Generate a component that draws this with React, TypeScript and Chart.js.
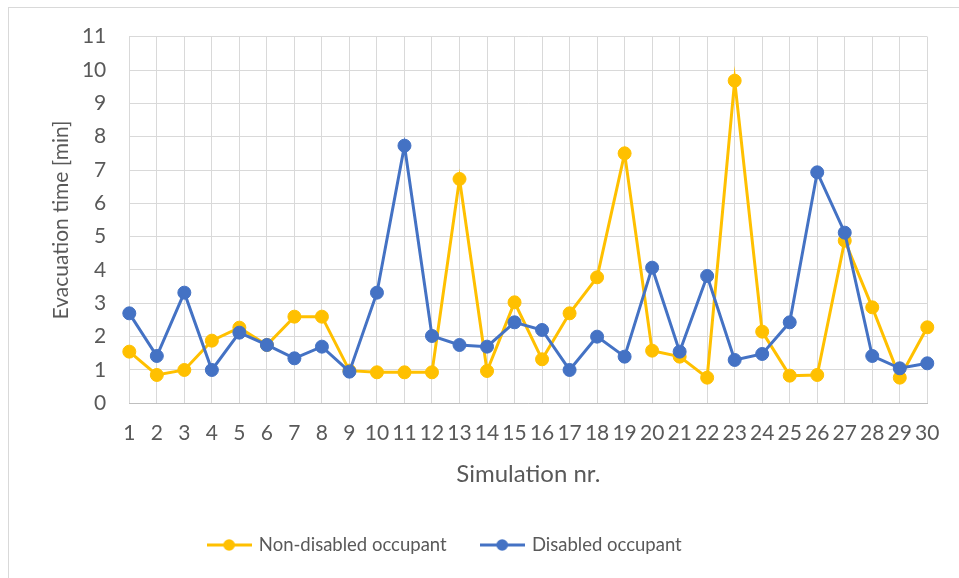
import React, { useEffect, useRef } from 'react';
import { Chart, registerables } from 'chart.js';

Chart.register(...registerables);

const categories = ['1', '2', '3', '4', '5', '6', '7', '8', '9', '10', '11', '12', '13', '14', '15', '16', '17', '18', '19', '20', '21', '22', '23', '24', '25', '26', '27', '28', '29', '30'];

const nonDisabled = [1.55, 0.85, 1.0, 1.88, 2.27, 1.75, 2.6, 2.6, 0.98, 0.93, 0.93, 0.93, 6.73, 0.97, 3.03, 1.32, 2.7, 3.78, 7.5, 1.58, 1.4, 0.77, 9.68, 2.15, 0.83, 0.85, 4.88, 2.88, 0.77, 2.28];

const disabled = [2.7, 1.42, 3.32, 1.0, 2.12, 1.75, 1.35, 1.7, 0.95, 3.32, 7.73, 2.02, 1.75, 1.7, 2.43, 2.2, 1.0, 2.0, 1.4, 4.07, 1.55, 3.82, 1.3, 1.48, 2.43, 6.93, 5.12, 1.42, 1.05, 1.2];

const seriesLabels = ['Non-disabled occupant', 'Disabled occupant'];
const yMin = 0;
const yMax = 11;
const yStep = 1;
const xTitle = 'Simulation nr.';
const yTitle = 'Evacuation time [min]';

const ORANGE = '#FFC000';
const BLUE = '#4472C4';
const GRID = '#D9D9D9';
const TEXT = '#595959';
const FONT = 'Lato';

function makeLegendIcon(color: string) {
  const c = document.createElement('canvas');
  c.width = 45;
  c.height = 14;
  const ctx = c.getContext('2d')!;
  ctx.strokeStyle = color;
  ctx.lineWidth = 3;
  ctx.beginPath();
  ctx.moveTo(0, 7);
  ctx.lineTo(45, 7);
  ctx.stroke();
  ctx.fillStyle = color;
  ctx.beginPath();
  ctx.arc(22.5, 7, 5.8, 0, Math.PI * 2);
  ctx.fill();
  return c;
}

const shiftLegend = {
  id: 'shiftLegend',
  afterLayout(chart: any) {
    const lg = chart.legend;
    if (lg) {
      lg.left -= 23;
      lg.right -= 23;
    }
  },
};

export default function App() {
  const ref = useRef<HTMLCanvasElement | null>(null);

  useEffect(() => {
    if (!ref.current) return;
    const icons = [makeLegendIcon(ORANGE), makeLegendIcon(BLUE)];
    const chart = new Chart(ref.current, {
      type: 'line',
      data: {
        labels: categories,
        datasets: [
          {
            label: seriesLabels[0],
            data: nonDisabled,
            borderColor: ORANGE,
            backgroundColor: ORANGE,
            pointBackgroundColor: ORANGE,
            pointBorderColor: ORANGE,
            borderWidth: 3,
            pointRadius: 6.5,
            pointBorderWidth: 1,
            tension: 0,
            order: 1,
          },
          {
            label: seriesLabels[1],
            data: disabled,
            borderColor: BLUE,
            backgroundColor: BLUE,
            pointBackgroundColor: BLUE,
            pointBorderColor: BLUE,
            borderWidth: 3,
            pointRadius: 6.5,
            pointBorderWidth: 1,
            tension: 0,
            order: 0,
          },
        ],
      },
      options: {
        responsive: false,
        animation: false,
        devicePixelRatio: 1,
        layout: { padding: { left: 0, right: 31.7, top: 28.7, bottom: 13.75 } },
        plugins: {
          tooltip: { enabled: false },
          legend: {
            position: 'bottom',
            labels: {
              usePointStyle: true,
              pointStyleWidth: 41,
              padding: 35,
              color: TEXT,
              font: { family: FONT, size: 18.5 },
              generateLabels: (ch: any) =>
                ch.data.datasets.map((ds: any, i: number) => ({
                  text: ds.label,
                  fillStyle: ds.borderColor,
                  strokeStyle: ds.borderColor,
                  fontColor: TEXT,
                  lineWidth: 0,
                  hidden: false,
                  datasetIndex: i,
                  pointStyle: icons[i],
                })),
            },
          },
        },
        scales: {
          x: {
            type: 'category',
            offset: false,
            grid: { color: GRID, lineWidth: 1, drawTicks: false },
            border: { color: '#BFBFBF', width: 1 },
            ticks: {
              color: TEXT,
              font: { family: FONT, size: 21 },
              padding: 17,
              maxRotation: 0,
              autoSkip: false,
            },
            title: {
              display: true,
              text: xTitle,
              color: TEXT,
              font: { family: FONT, size: 24 },
              padding: { top: 0, bottom: 12.3 },
            },
            afterFit: (s: any) => {
              s.height = 97.45;
            },
          },
          y: {
            min: yMin,
            max: yMax,
            grid: { color: GRID, lineWidth: 1, drawTicks: false },
            border: { display: false },
            ticks: {
              stepSize: yStep,
              color: TEXT,
              font: { family: FONT, size: 21 },
              padding: 23,
            },
            title: {
              display: true,
              text: yTitle,
              color: TEXT,
              font: { family: FONT, size: 21 },
              padding: { top: 39.9, bottom: 0 },
            },
            afterFit: (s: any) => {
              s.width = 120.3;
              s.paddingTop = 0;
              s.paddingBottom = 0;
            },
          },
        },
      },
      plugins: [shiftLegend],
    });
    return () => chart.destroy();
  }, []);

  return (
    <div
      style={{
        position: 'absolute',
        left: 8,
        top: 7,
        width: 951,
        height: 571,
        boxSizing: 'border-box',
        borderTop: '1px solid #D9D9D9',
        borderLeft: '1px solid #D9D9D9',
        background: '#fff',
      }}
    >
      <canvas ref={ref} width={950} height={570} style={{ display: 'block' }} />
    </div>
  );
}
